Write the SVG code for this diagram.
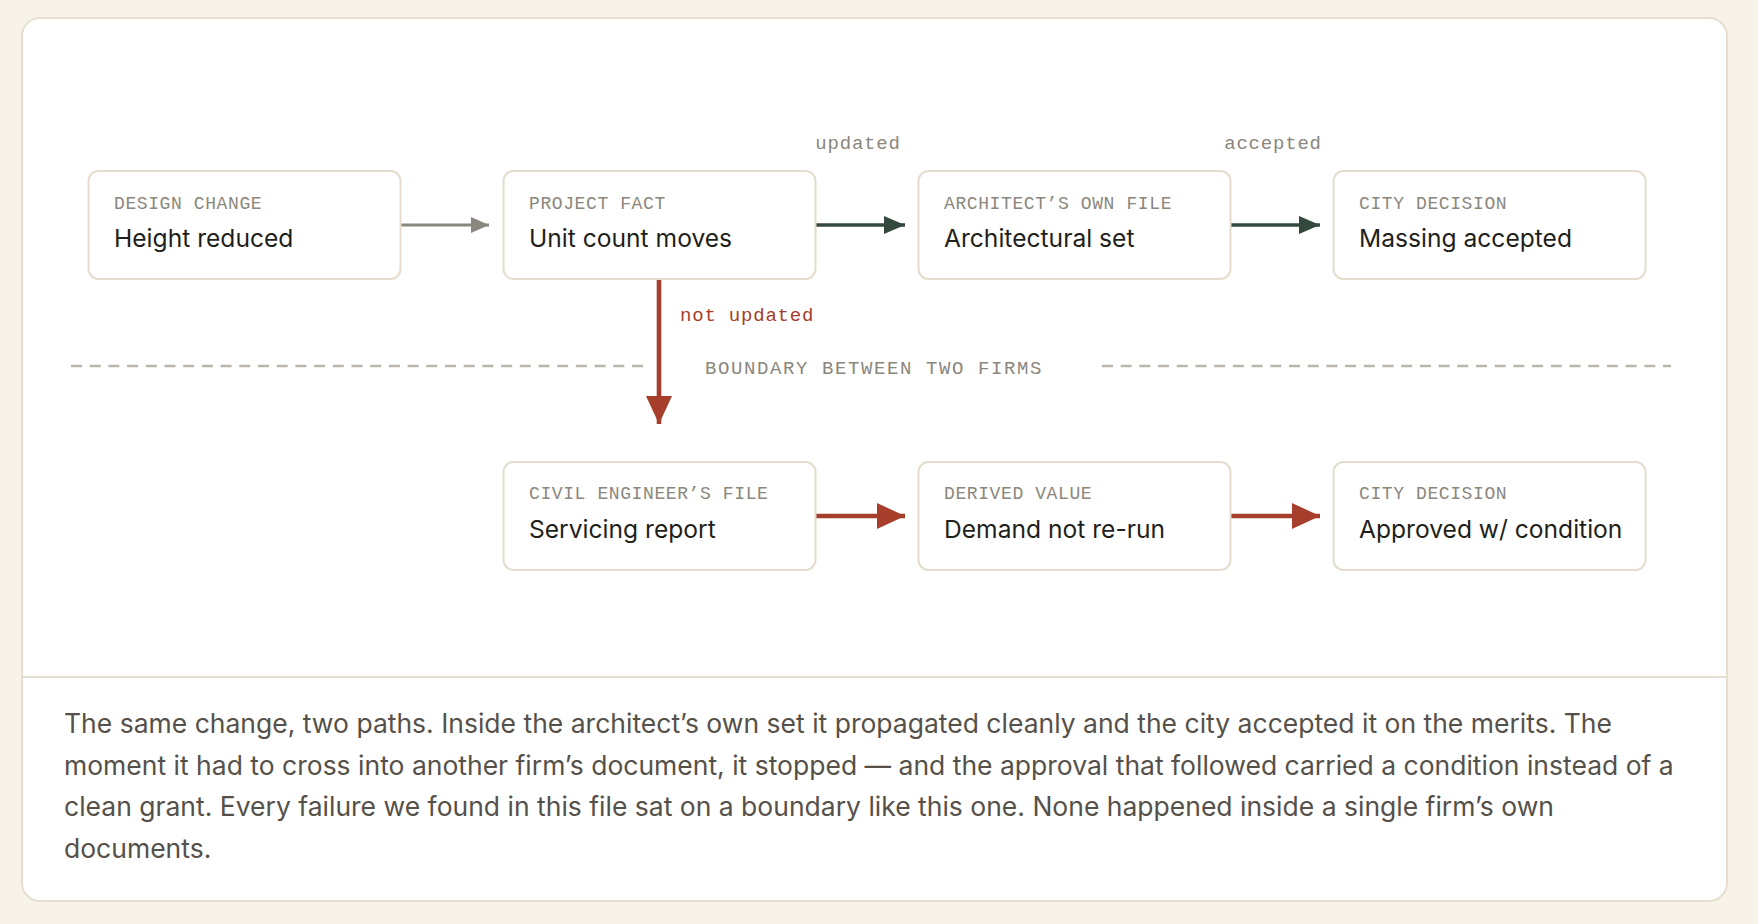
<svg xmlns="http://www.w3.org/2000/svg" width="1758" height="924" viewBox="0 0 1758 924">
  <style>
    .box { fill: #ffffff; stroke: #e4ddcd; stroke-width: 2; }
    .lbl { font-family: "Liberation Mono", "DejaVu Sans Mono", monospace; font-size: 18px; letter-spacing: 0.6px; fill: #8b877d; }
    .ttl { font-family: Inter, "Noto Sans", "Liberation Sans", sans-serif; font-size: 24.6px; fill: #1f1f1b; }
    .edge { font-family: "Liberation Mono", "DejaVu Sans Mono", monospace; font-size: 19px; letter-spacing: 0.8px; fill: #8b877d; }
    .bnd { font-family: "Liberation Mono", "DejaVu Sans Mono", monospace; font-size: 19px; letter-spacing: 1.6px; fill: #8b877d; }
    .cap { font-family: Inter, "Noto Sans", "Liberation Sans", sans-serif; font-size: 26.5px; fill: #55514a; }
    .grey { stroke: #8a877e; stroke-width: 3; fill: none; }
    .green { stroke: #34493e; stroke-width: 3.4; fill: none; }
    .red { stroke: #a63e2b; stroke-width: 4.6; fill: none; }
    .dash { stroke: #bab6ab; stroke-width: 2.3; stroke-dasharray: 11 7.7; fill: none; }
  </style>
  <defs>
    <marker id="ah-grey" markerUnits="userSpaceOnUse" viewBox="0 0 18 16" refX="18" refY="8" markerWidth="18" markerHeight="16" orient="auto">
      <path d="M0,0 L18,8 L0,16 Z" fill="#8a877e"/>
    </marker>
    <marker id="ah-green" markerUnits="userSpaceOnUse" viewBox="0 0 21 18" refX="21" refY="9" markerWidth="21" markerHeight="18" orient="auto">
      <path d="M0,0 L21,9 L0,18 Z" fill="#34493e"/>
    </marker>
    <marker id="ah-red" markerUnits="userSpaceOnUse" viewBox="0 0 28 26" refX="28" refY="13" markerWidth="28" markerHeight="26" orient="auto">
      <path d="M0,0 L28,13 L0,26 Z" fill="#a63e2b"/>
    </marker>
  </defs>

  <rect x="0" y="0" width="1758" height="924" fill="#f7f3e9"/>
  <rect x="22" y="18" width="1705" height="883" rx="18" fill="#ffffff" stroke="#e6dfcf" stroke-width="2"/>
  <line x1="23" y1="677" x2="1726" y2="677" stroke="#e6dfcf" stroke-width="2"/>

  <g id="boundary">
    <line class="dash" x1="71" y1="366" x2="643" y2="366"/>
    <line class="dash" x1="1102" y1="366" x2="1671" y2="366"/>
    <text class="bnd" x="705" y="374">BOUNDARY BETWEEN TWO FIRMS</text>
  </g>

  <g id="connectors">
    <line class="grey" x1="400" y1="225" x2="489" y2="225" marker-end="url(#ah-grey)"/>
    <line class="green" x1="815" y1="225" x2="905" y2="225" marker-end="url(#ah-green)"/>
    <line class="green" x1="1230" y1="225" x2="1320" y2="225" marker-end="url(#ah-green)"/>
    <line class="red" x1="659" y1="279" x2="659" y2="424" marker-end="url(#ah-red)"/>
    <line class="red" x1="815" y1="516" x2="905" y2="516" marker-end="url(#ah-red)"/>
    <line class="red" x1="1230" y1="516" x2="1320" y2="516" marker-end="url(#ah-red)"/>
    <text class="edge" x="858" y="149" text-anchor="middle">updated</text>
    <text class="edge" x="1273" y="149" text-anchor="middle">accepted</text>
    <text class="edge" x="680" y="321" style="fill:#a63e2b">not updated</text>
  </g>

  <g id="design-change">
    <rect class="box" x="88.5" y="171" width="312" height="108" rx="10"/>
    <text class="lbl" x="114" y="209">DESIGN CHANGE</text>
    <text class="ttl" x="114" y="247">Height reduced</text>
  </g>
  <g id="project-fact">
    <rect class="box" x="503.5" y="171" width="312" height="108" rx="10"/>
    <text class="lbl" x="529" y="209">PROJECT FACT</text>
    <text class="ttl" x="529" y="247">Unit count moves</text>
  </g>
  <g id="architects-file">
    <rect class="box" x="918.5" y="171" width="312" height="108" rx="10"/>
    <text class="lbl" x="944" y="209">ARCHITECT’S OWN FILE</text>
    <text class="ttl" x="944" y="247">Architectural set</text>
  </g>
  <g id="city-decision-1">
    <rect class="box" x="1333.5" y="171" width="312" height="108" rx="10"/>
    <text class="lbl" x="1359" y="209">CITY DECISION</text>
    <text class="ttl" x="1359" y="247">Massing accepted</text>
  </g>
  <g id="civil-file">
    <rect class="box" x="503.5" y="462" width="312" height="108" rx="10"/>
    <text class="lbl" x="529" y="499">CIVIL ENGINEER’S FILE</text>
    <text class="ttl" x="529" y="538">Servicing report</text>
  </g>
  <g id="derived-value">
    <rect class="box" x="918.5" y="462" width="312" height="108" rx="10"/>
    <text class="lbl" x="944" y="499">DERIVED VALUE</text>
    <text class="ttl" x="944" y="538">Demand not re-run</text>
  </g>
  <g id="city-decision-2">
    <rect class="box" x="1333.5" y="462" width="312" height="108" rx="10"/>
    <text class="lbl" x="1359" y="499">CITY DECISION</text>
    <text class="ttl" x="1359" y="538">Approved w/ condition</text>
  </g>

  <g id="caption">
    <text class="cap" x="64" y="733">The same change, two paths. Inside the architect’s own set it propagated cleanly and the city accepted it on the merits. The</text>
    <text class="cap" x="64" y="774.5">moment it had to cross into another firm’s document, it stopped — and the approval that followed carried a condition instead of a</text>
    <text class="cap" x="64" y="816">clean grant. Every failure we found in this file sat on a boundary like this one. None happened inside a single firm’s own</text>
    <text class="cap" x="64" y="857.5">documents.</text>
  </g>
</svg>
